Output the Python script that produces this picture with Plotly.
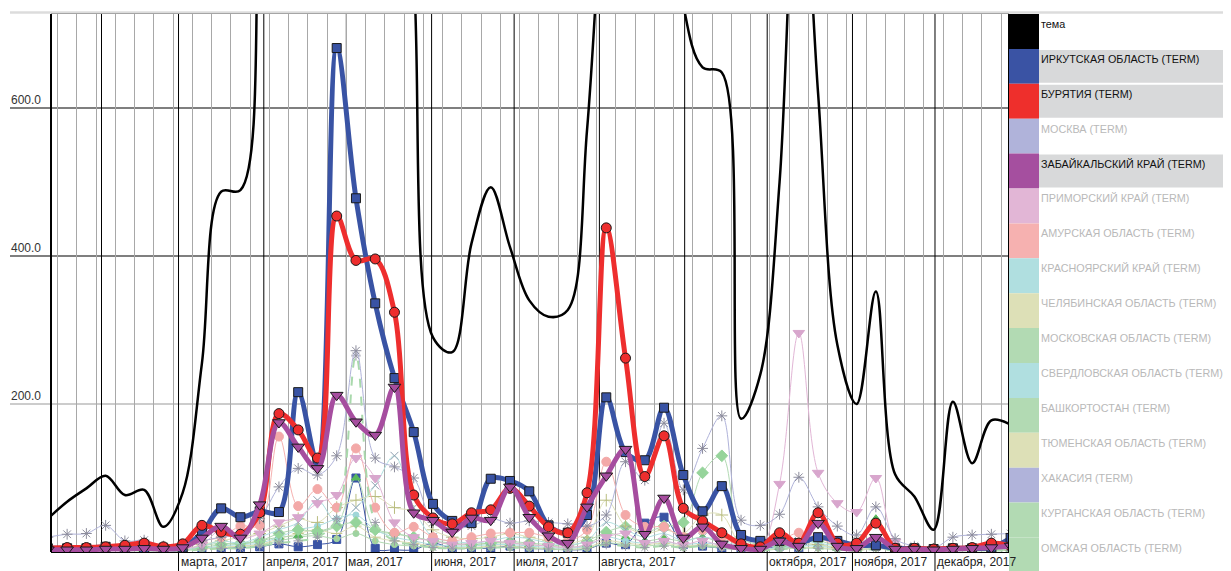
import plotly.graph_objects as go
import pandas as pd

# weekly data points (Thursdays)
weeks = pd.date_range("2017-01-12 12:00", periods=51, freq="7D")

tema = [45, 68, 86, 103, 77, 84, 34, 80, 255, 487, 489, 900, 1300, 1500, 1400, 1500, 1300, 1200, 1100, 780,
        290, 270, 417, 493, 412, 340, 318, 327, 570, 1000, 1400, 1300, 1100, 740, 655, 648, 180, 240, 500, 1000,
        620, 280, 200, 352, 105, 75, 30, 203, 120, 178, 172]
irkutsk = [5, 5, 5, 7, 6, 5, 5, 6, 26, 59, 47, 55, 54, 216, 120, 681, 478, 336, 235, 162,
           65, 42, 39, 99, 96, 82, 36, 26, 50, 209, 135, 124, 195, 104, 55, 89, 23, 15, 15, 12,
           20, 15, 9, 9, 5, 5, 4, 5, 5, 6, 19]
buryatia = [5, 6, 6, 7, 9, 12, 7, 11, 36, 27, 24, 53, 187, 165, 127, 454, 394, 396, 324, 77,
            46, 38, 53, 57, 86, 62, 34, 26, 80, 438, 262, 102, 157, 59, 42, 26, 11, 7, 26, 12,
            53, 12, 12, 39, 5, 5, 4, 5, 6, 12, 8]
moscow = [20, 24, 25, 36, 15, 16, 8, 8, 15, 20, 25, 45, 88, 113, 104, 130, 272, 127, 115, 100,
          40, 32, 35, 45, 39, 42, 40, 38, 35, 50, 122, 97, 174, 84, 140, 184, 43, 36, 51, 101,
          61, 35, 23, 61, 18, 8, 5, 20, 23, 24, 25]
zabaikal = [3, 3, 3, 4, 4, 5, 4, 6, 19, 35, 19, 64, 175, 142, 113, 212, 176, 158, 223, 53,
            43, 27, 46, 43, 88, 47, 22, 12, 61, 103, 139, 24, 73, 19, 34, 11, 5, 4, 15, 8,
            39, 8, 5, 20, 4, 4, 3, 4, 5, 6, 8]
primorsky = [3, 3, 3, 3, 3, 3, 3, 4, 10, 30, 18, 25, 40, 47, 66, 77, 127, 100, 40, 20,
             15, 10, 12, 15, 12, 10, 8, 6, 10, 20, 25, 12, 15, 10, 15, 8, 5, 5, 92, 296,
             107, 66, 54, 100, 14, 5, 4, 4, 5, 5, 5]
amur = [3, 3, 3, 3, 3, 3, 3, 5, 15, 20, 35, 36, 156, 62, 85, 60, 140, 60, 26, 34,
        20, 15, 20, 25, 26, 26, 20, 15, 30, 122, 50, 34, 34, 20, 30, 20, 8, 5, 15, 26,
        20, 8, 5, 10, 4, 4, 3, 4, 5, 6, 6]
krasnoyarsk = [2, 2, 2, 3, 2, 2, 2, 3, 8, 15, 12, 20, 30, 40, 70, 40, 60, 90, 130, 60,
               20, 15, 12, 15, 20, 18, 12, 10, 15, 40, 30, 20, 25, 15, 20, 15, 8, 5, 10, 15,
               12, 8, 5, 8, 3, 3, 2, 3, 3, 4, 4]
chelyabinsk = [2, 2, 2, 2, 2, 2, 2, 3, 10, 15, 20, 25, 35, 45, 40, 60, 70, 75, 60, 55,
               30, 20, 18, 20, 25, 20, 15, 12, 20, 70, 35, 25, 30, 25, 50, 50, 10, 8, 10, 12,
               10, 6, 4, 6, 3, 3, 2, 3, 3, 3, 3]
mosobl = [2, 2, 2, 2, 2, 2, 2, 3, 6, 10, 12, 15, 25, 30, 28, 35, 40, 30, 25, 20,
          15, 12, 10, 12, 14, 12, 10, 8, 15, 27, 34, 27, 35, 40, 107, 130, 20, 10, 8, 12,
          15, 8, 4, 8, 3, 3, 2, 3, 3, 3, 3]
sverdlovsk = [1, 1, 2, 2, 2, 2, 1, 2, 5, 8, 10, 12, 20, 30, 35, 45, 50, 30, 20, 15,
              10, 8, 8, 10, 10, 8, 6, 5, 8, 20, 15, 12, 14, 10, 12, 10, 5, 4, 6, 8,
              8, 5, 3, 6, 2, 2, 2, 2, 2, 3, 3]
bashkortostan = [2, 2, 3, 3, 4, 3, 2, 3, 8, 12, 10, 15, 20, 22, 27, 36, 100, 30, 25, 20,
                 15, 10, 10, 12, 12, 10, 8, 6, 10, 25, 20, 15, 18, 15, 20, 12, 6, 4, 6, 8,
                 10, 5, 3, 45, 3, 3, 2, 3, 3, 3, 3]
tyumen = [1, 1, 1, 2, 2, 2, 1, 2, 4, 6, 8, 10, 18, 25, 30, 25, 35, 20, 15, 12,
          8, 6, 6, 8, 8, 6, 5, 4, 6, 15, 12, 10, 12, 8, 10, 8, 4, 3, 5, 6,
          6, 4, 2, 5, 2, 2, 1, 2, 2, 2, 2]
khakasia = [2, 2, 3, 5, 4, 3, 3, 3, 5, 5, 6, 7, 11, 7, 10, 17, 100, 5, 3, 3,
            12, 5, 5, 5, 8, 5, 4, 3, 4, 12, 10, 39, 47, 10, 8, 5, 4, 3, 8, 5,
            19, 10, 4, 8, 3, 3, 2, 3, 3, 4, 5]
kurgan = [1, 1, 1, 1, 1, 1, 1, 2, 3, 5, 5, 8, 12, 15, 20, 45, 265, 40, 15, 10,
          6, 5, 5, 6, 6, 5, 4, 3, 5, 10, 8, 6, 8, 6, 8, 6, 3, 2, 4, 5,
          5, 3, 2, 4, 2, 2, 1, 2, 2, 2, 2]
omsk = [1, 1, 1, 2, 2, 1, 1, 2, 4, 6, 8, 10, 15, 20, 22, 18, 25, 15, 10, 8,
        6, 5, 5, 6, 6, 5, 4, 3, 5, 12, 10, 8, 10, 6, 8, 6, 3, 2, 4, 5,
        5, 3, 2, 5, 2, 2, 1, 2, 2, 2, 2]

legend_names = ["тема", "ИРКУТСКАЯ ОБЛАСТЬ (TERM)", "БУРЯТИЯ (TERM)", "МОСКВА (TERM)",
                "ЗАБАЙКАЛЬСКИЙ КРАЙ (TERM)", "ПРИМОРСКИЙ КРАЙ (TERM)", "АМУРСКАЯ ОБЛАСТЬ (TERM)",
                "КРАСНОЯРСКИЙ КРАЙ (TERM)", "ЧЕЛЯБИНСКАЯ ОБЛАСТЬ (TERM)", "МОСКОВСКАЯ ОБЛАСТЬ (TERM)",
                "СВЕРДЛОВСКАЯ ОБЛАСТЬ (TERM)", "БАШКОРТОСТАН (TERM)", "ТЮМЕНСКАЯ ОБЛАСТЬ (TERM)",
                "ХАКАСИЯ (TERM)", "КУРГАНСКАЯ ОБЛАСТЬ (TERM)", "ОМСКАЯ ОБЛАСТЬ (TERM)"]
legend_colors = ["#000000", "#3a53a4", "#ee2f2c", "#b0b3da", "#a54f9f", "#e2b6d6", "#f6b1b0",
                 "#b0dfe0", "#dde0b7", "#b2dab3", "#b0dfe0", "#b2dab3", "#dde0b7", "#b0b3da",
                 "#b2dab3", "#b2dab3"]
legend_active = [True, True, True, False, True, False, False, False, False, False, False,
                 False, False, False, False, False]

month_starts = ["2017-02-01", "2017-03-01", "2017-04-01", "2017-05-01", "2017-06-01", "2017-07-01",
                "2017-08-01", "2017-09-01", "2017-10-01", "2017-11-01", "2017-12-01"]
month_labels = ["", "марта, 2017", "апреля, 2017", "мая, 2017", "июня, 2017", "июля, 2017",
                "августа, 2017", "", "октября, 2017", "ноября, 2017", "декабря, 2017"]
y_ticks = [200, 400, 600]
y_tick_labels = ["200.0", "400.0", "600.0"]

FONT = "Liberation Sans"
fig = go.Figure()

def light(name, vals, color, symbol, mcolor, dash="solid", size=8, lw=1.0):
    fig.add_trace(go.Scatter(
        x=weeks, y=vals, name=name, mode="lines+markers", line_shape="spline",
        line=dict(color=color, width=lw, dash=dash),
        marker=dict(symbol=symbol, size=size, color=mcolor,
                    line=dict(color=mcolor, width=1)),
        showlegend=False))

light(legend_names[13], khakasia, "#3953a4", "square", "#3953a4", size=8)
light(legend_names[15], omsk, "#b2dab3", "circle", "#9ed3a1", size=6)
light(legend_names[12], tyumen, "#dde0b7", "cross-thin-open", "#c3c78e", size=8)
light(legend_names[11], bashkortostan, "#b2dab3", "triangle-up", "#58b85c", size=8)
light(legend_names[10], sverdlovsk, "#b0dfe0", "circle", "#9fd6d8", size=6)
light(legend_names[9], mosobl, "#b2dab3", "diamond", "#96d49b", size=9)
light(legend_names[8], chelyabinsk, "#dde0b7", "cross-thin-open", "#b9bd80", size=9)
light(legend_names[7], krasnoyarsk, "#b0dfe0", "x-thin-open", "#8fa0b0", size=8)
light(legend_names[6], amur, "#f6b1b0", "circle", "#f3a9a8", size=9)
light(legend_names[5], primorsky, "#e2b6d6", "triangle-down", "#d8a6cd", size=10)
light(legend_names[14], kurgan, "#a9d9ac", "asterisk-open", "#9a9aa8", dash="dash", lw=2)
light(legend_names[3], moscow, "#b0b3da", "asterisk-open", "#8c8c9c", size=9)

# theme line
fig.add_trace(go.Scatter(x=weeks, y=tema, name=legend_names[0], mode="lines", line_shape="spline",
                         line=dict(color="#000000", width=2.5), showlegend=False))

def main(name, vals, color, symbol, size):
    fig.add_trace(go.Scatter(
        x=weeks, y=vals, name=name, mode="lines+markers", line_shape="spline",
        line=dict(color=color, width=5),
        marker=dict(symbol=symbol, size=size, color=color, line=dict(color="#1a1a1a", width=1)),
        showlegend=False))

main(legend_names[1], irkutsk, "#3953a4", "square", 9)
main(legend_names[2], buryatia, "#ee2e2e", "circle", 10)
main(legend_names[4], zabaikal, "#a64d9f", "triangle-down", 11)

# geometry in screen pixels; the page body adds an 8px offset
OX, OY = 8, 8
SW, SH = 1231, 571            # screen size
L, R, T, B = 52, 1008, 14, 552  # plot area on screen
W, H = SW - OX, SH - OY         # figure size
pw, ph = R - L, B - T
def px_x(x):
    return (x - L) / pw
def px_y(y):
    return (B - y) / ph

shapes = []
# top light band
shapes.append(dict(type="line", xref="paper", yref="paper", x0=px_x(10), x1=px_x(SW + 5), y0=px_y(12.5), y1=px_y(12.5),
                   line=dict(color="#dcdcdc", width=2.5), layer="above"))
# horizontal gridlines
for v in y_ticks:
    shapes.append(dict(type="line", xref="paper", yref="y", x0=px_x(10), x1=1, y0=v, y1=v,
                       line=dict(color="#000000" if v >= 400 else "#9a9a9a", width=1.2), layer="below"))
# month lines
for d, lab in zip(month_starts, month_labels):
    shapes.append(dict(type="line", xref="x", yref="paper", x0=d, x1=d,
                       y0=px_y(SH + 2) if lab else 0, y1=1, line=dict(color="#000000", width=1), layer="below"))
# left double border
shapes.append(dict(type="line", xref="paper", yref="paper", x0=px_x(50.5), x1=px_x(50.5), y0=0, y1=1,
                   line=dict(color="#000000", width=1), layer="above"))

annotations = []
for v, t in zip(y_ticks, y_tick_labels):
    annotations.append(dict(xref="paper", yref="y", x=px_x(9), y=v, text=t, showarrow=False,
                            xanchor="left", yanchor="bottom", yshift=-1,
                            font=dict(family=FONT, size=12, color="#333333")))
for d, lab in zip(month_starts, month_labels):
    if lab:
        annotations.append(dict(xref="x", yref="paper", x=d, y=px_y(562), text=lab, showarrow=False,
                                xanchor="left", yanchor="middle", xshift=0,
                                font=dict(family=FONT, size=12, color="#222222")))

# custom legend
row_h = 34.9
for i, (nm, col, act) in enumerate(zip(legend_names, legend_colors, legend_active)):
    top = T + row_h * i
    bot = top + row_h
    shapes.append(dict(type="rect", xref="paper", yref="paper", x0=px_x(1009), x1=px_x(1039),
                       y0=px_y(bot), y1=px_y(top), fillcolor=col, line=dict(width=0), layer="above"))
    if act and i > 0:
        shapes.append(dict(type="rect", xref="paper", yref="paper", x0=px_x(1039), x1=px_x(SW + 5),
                           y0=px_y(bot - 1), y1=px_y(top + 1), fillcolor="#d8d9da", line=dict(width=0),
                           layer="above"))
    annotations.append(dict(xref="paper", yref="paper", x=px_x(1039), y=px_y(top + 10), text=nm,
                            showarrow=False, xanchor="left", yanchor="middle",
                            font=dict(family=FONT, size=10.8, color="#111111" if act else "#b9b9b9")))

fig.update_layout(
    width=W, height=H,
    margin=dict(l=L - OX, r=SW - R, t=T - OY, b=SH - B, pad=0),
    paper_bgcolor="white", plot_bgcolor="white",
    showlegend=False,
    shapes=shapes, annotations=annotations,
    xaxis=dict(type="date", range=["2017-01-14 00:00", "2017-12-27 13:00"],
               tick0="2017-01-16", dtick=7 * 86400000, showgrid=True, gridcolor="#a8a8a8", gridwidth=1.4,
               showticklabels=False, ticks="", showline=True, linecolor="#000000", linewidth=1, mirror=True,
               zeroline=False),
    yaxis=dict(range=[0, 727], showgrid=False, showticklabels=False, ticks="", showline=True,
               linecolor="#000000", linewidth=1, mirror=True, zeroline=False),
    font=dict(family=FONT),
)

fig.write_html("out.html")
